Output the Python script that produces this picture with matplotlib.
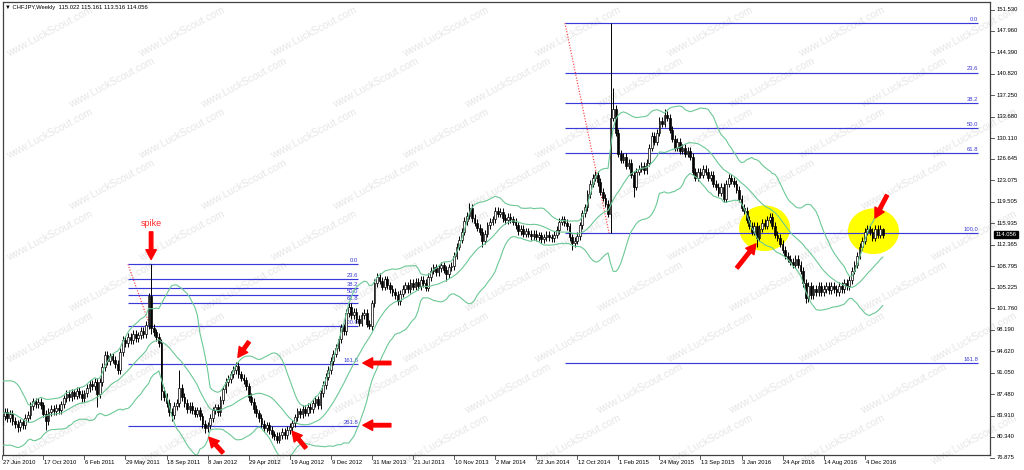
import matplotlib
matplotlib.use("Agg")
import matplotlib.pyplot as plt
from matplotlib.patches import Ellipse
import numpy as np
import pandas as pd

plt.rcParams["font.family"] = ["Liberation Sans", "DejaVu Sans"]

W, H = 1024, 470

symbol = "CHFJPY,Weekly"
first_week = "2010-06-27"

# closes of the weeks before the first visible bar (they only feed the bands)
pre_closes = [83.5, 84.0, 83.6, 84.8, 86.0, 87.2, 88.0, 88.6, 87.8, 88.2,
              86.5, 84.5, 82.0, 80.5, 81.5, 80.2, 80.8, 81.8, 82.5]

# weekly closes, one row per 16 weeks (one x label interval)
closes = [
    83.8, 84.5, 83.5, 84.2, 83.0, 82.5, 82.0, 82.8, 82.3, 83.5, 84.0, 85.5, 86.3, 85.8, 86.2, 85.6,
    84.2, 83.0, 84.5, 85.0, 84.6, 85.2, 84.8, 85.8, 86.8, 87.5, 87.0, 87.8, 87.2, 88.0, 87.5, 86.8,
    87.6, 88.5, 89.2, 88.8, 89.5, 87.5, 89.5, 92.0, 94.0, 93.0, 93.8, 93.2, 92.5, 91.5, 94.5, 96.5,
    96.0, 97.0, 96.5, 97.5, 96.8, 97.3, 98.0, 97.5, 99.0, 103.8, 98.5, 97.8, 97.0, 96.0, 88.0, 87.0,
    86.0, 84.5, 84.0, 85.5, 86.0, 88.5, 87.0, 86.0, 85.0, 85.5, 84.8, 84.2, 84.8, 83.8, 82.5, 81.8,
    82.3, 83.5, 84.8, 85.3, 84.5, 86.5, 88.3, 89.5, 90.0, 90.8, 91.5, 92.2, 90.8, 90.2, 89.8, 88.8,
    87.0, 86.2, 85.0, 84.3, 83.5, 82.5, 81.8, 82.3, 81.5, 80.8, 80.5, 79.9, 80.6, 81.2, 80.6, 81.5,
    82.0, 82.6, 83.6, 84.6, 84.1, 85.0, 84.4, 85.4, 85.0, 86.0, 86.6, 85.6, 87.6, 89.0, 90.4, 91.5,
    93.0, 94.2, 95.2, 96.6, 98.6, 98.0, 101.0, 102.0, 100.6, 101.2, 100.0, 99.4, 100.6, 101.0, 99.2, 98.8,
    102.6, 106.0, 107.0, 106.4, 105.4, 106.6, 105.6, 105.0, 104.5, 104.0, 103.0, 104.2, 105.0, 105.6, 105.0, 106.0,
    105.4, 106.2, 105.5, 106.5, 106.0, 105.2, 107.0, 108.0, 108.6, 107.8, 108.4, 108.9, 108.2, 107.4, 108.6, 108.8,
    110.5, 112.0, 113.2, 114.5, 116.3, 117.2, 118.5, 116.8, 116.0, 115.2, 114.5, 113.0, 114.2, 115.6, 116.2, 116.6,
    118.0, 117.5, 117.8, 116.8, 116.4, 117.0, 116.6, 116.2, 115.6, 114.6, 115.0, 114.2, 114.6, 114.2, 113.8, 114.2,
    113.6, 113.9, 113.3, 113.6, 114.0, 113.6, 113.4, 114.0, 114.8, 116.2, 116.6, 116.0, 115.4, 113.6, 112.6, 113.0,
    113.8, 115.6, 117.6, 118.6, 120.8, 122.5, 123.5, 124.0, 122.8, 121.2, 120.2, 119.2, 117.5, 133.5, 135.0, 131.0,
    127.5, 126.5, 127.0, 125.5, 126.0, 124.0, 122.0, 124.5, 125.0, 125.5, 124.8, 126.0, 128.5, 130.5, 129.5, 131.0,
    133.0, 132.5, 134.0, 133.5, 131.5, 130.0, 128.5, 129.5, 128.0, 128.5, 127.5, 128.0, 127.0, 124.5, 123.5, 124.5,
    124.0, 125.0, 124.5, 123.5, 124.0, 122.5, 122.0, 121.0, 122.0, 120.0, 122.5, 123.5, 123.0, 122.5, 121.5, 120.0,
    118.5, 118.0, 116.5, 115.5, 114.5, 115.5, 113.5, 115.0, 116.0, 115.5, 116.5, 117.0, 115.5, 114.0, 113.5, 112.5,
    111.5, 110.5, 110.0, 109.5, 109.0, 110.0, 109.0, 108.0, 106.0, 103.5, 105.5, 104.0, 105.0, 104.5, 105.5, 104.5,
    105.0, 105.5, 104.8, 105.5, 105.0, 104.5, 105.5, 105.0, 106.0, 105.5, 106.5, 108.0, 109.0, 110.5, 112.0, 113.0,
    114.5, 115.0, 114.5, 113.5, 115.0, 114.0, 115.022, 114.056,
]

# weeks with a clearly visible long wick
wick_highs = {57: 104.3, 58: 109.2, 69: 91.5, 91: 92.8, 182: 119.3, 231: 124.7,
              237: 149.3, 238: 138.4, 258: 134.9, 299: 117.6}
wick_lows = {6: 81.2, 17: 81.5, 37: 85.3, 45: 90.8, 58: 97.5, 62: 86.5, 66: 83.0,
             79: 81.0, 107: 79.3, 143: 98.3, 154: 102.3, 173: 106.3, 187: 112.0,
             222: 111.5, 237: 114.3, 246: 120.3, 281: 119.4, 294: 112.0, 313: 102.6}
last_ohlc = (115.022, 115.161, 113.516, 114.056)

price_ticks = [151.530, 147.960, 144.390, 140.820, 137.250, 133.680, 130.110,
               126.645, 123.075, 119.505, 115.935, 112.365, 108.795, 105.225,
               101.760, 98.190, 94.620, 91.050, 87.480, 83.910, 80.340, 76.875]
label_every = 16

# fibonacci objects: anchor 1 (bar, high), anchor 2 (bar, low), right end bar
fib_2011 = {"p1": (49.0, 109.1), "p2": (57.6, 98.8), "end": 138.6,
            "levels": [0.0, 23.6, 38.2, 50.0, 61.8, 100.0, 161.8, 261.8]}
fib_2015 = {"p1": (219.2, 149.28), "p2": (236.4, 114.28), "end": 380.1,
            "levels": [0.0, 23.6, 38.2, 50.0, 61.8, 100.0, 161.8]}

n = len(closes)
idx = np.arange(n)
dates = pd.date_range(first_week, periods=n, freq="7D")

c = np.array(closes, dtype=float)
o = np.array([pre_closes[-1]] + closes[:-1], dtype=float)
hi = np.maximum(o, c) + 0.6
lo = np.minimum(o, c) - 0.6
for k, v in wick_highs.items():
    hi[k] = v
for k, v in wick_lows.items():
    lo[k] = v
o[-1], hi[-1], lo[-1], c[-1] = last_ohlc

# bollinger bands 20, 2
s = pd.Series(pre_closes + closes)
mid = s.rolling(20).mean().to_numpy()[len(pre_closes):]
sd = s.rolling(20).std(ddof=0).to_numpy()[len(pre_closes):]

fig = plt.figure(figsize=(W / 100, H / 100), dpi=100)
ax = fig.add_axes([3 / W, 1 - 455 / H, 987 / W, 453 / H])
ax.set_xlim(0.3, 384.8)
ax.set_ylim(77.34, 152.78)
ax.set_xticks([])
ax.set_yticks([])
for sp in ax.spines.values():
    sp.set_color("#404040")
    sp.set_linewidth(0.9)

# watermark, kept fully inside the picture
for r in range(9):
    py = 32 + r * 51
    for col in range(8):
        px = 50 + col * 132 + (r % 2) * 62
        if px > 975:
            continue
        ax.text(px / W, 1 - py / H, "www.LuckScout.com", transform=fig.transFigure,
                rotation=28, fontsize=7.5, color="#e6e6e6", ha="center", va="center",
                zorder=0.5, clip_on=False)

# yellow highlights
for cx, cy in [(297.0, 115.1), (339.4, 114.6)]:
    ax.add_patch(Ellipse((cx, cy), 19.9, 7.6, facecolor="#ffff00", edgecolor="none", zorder=1))

# fibonacci retracements
for fib in (fib_2011, fib_2015):
    (x1, p_hi), (x2, p_lo) = fib["p1"], fib["p2"]
    ax.plot([x1, x2], [p_hi, p_lo], color="#ff3030", lw=0.8, ls=(0, (1, 1.5)), zorder=2)
    for lvl in fib["levels"]:
        price = p_hi - (p_hi - p_lo) * lvl / 100
        ax.hlines(price, x1, fib["end"], color="#3a3ad8", lw=0.85, zorder=2)
        ax.text(fib["end"], price + 0.2, f"{lvl:.1f}", ha="right", va="bottom",
                fontsize=4.2, color="#3a3ad8", zorder=2)

# candles
up = c >= o
ax.vlines(idx, lo, hi, color="black", lw=0.7, zorder=3)
ax.bar(idx, np.maximum(np.abs(c - o), 0.1), bottom=np.minimum(o, c), width=0.68,
       color=np.where(up, "white", "black"), edgecolor="black", linewidth=0.5, zorder=4)

for band in (mid + 2 * sd, mid, mid - 2 * sd):
    ax.plot(idx, band, color="#6cc896", lw=0.8, zorder=5)

# red arrows
arrows = [((58, 114.5), (58, 109.9)),
          ((96.1, 96.2), (91.8, 93.6)),
          ((86.0, 77.7), (80.5, 80.3)),
          ((118.3, 78.5), (112.9, 81.3)),
          ((151.4, 92.66), (140.5, 92.66)),
          ((151.4, 82.3), (140.5, 82.3)),
          ((286.2, 108.5), (293.6, 112.5)),
          ((344.7, 120.6), (340.0, 116.8))]
for tail, tip in arrows:
    ax.annotate("", xy=tip, xytext=tail, zorder=6,
                arrowprops=dict(arrowstyle="simple,head_length=0.7,head_width=0.75,tail_width=0.25",
                                color="#ff0000", shrinkA=0, shrinkB=0, mutation_scale=10))
ax.text(58, 115.9, "spike", color="#ff2a2a", fontsize=6.5, ha="center", va="center", zorder=6)

# header
fig.text(5 / W, 1 - 8 / H, "\u25bc " + symbol + "  " + " ".join(f"{v:.3f}" for v in last_ohlc),
         fontsize=4.2, ha="left", va="center")

# price scale
ytr = ax.get_yaxis_transform()
for p in price_ticks:
    ax.plot([1.0, 1.004], [p, p], transform=ytr, color="#404040", lw=0.6, clip_on=False)
    ax.text(1.0071, p, f"{p:.3f}", transform=ytr, fontsize=4.2, ha="left", va="center",
            clip_on=False)
ax.text(1.0055, last_ohlc[3], f"{last_ohlc[3]:.3f}", transform=ytr, fontsize=4.2,
        color="white", ha="left", va="center", clip_on=False, zorder=10,
        bbox=dict(boxstyle="square,pad=0.25", fc="black", ec="black"))

# time scale
xtr = ax.get_xaxis_transform()
for k in range(0, n, label_every):
    ax.plot([k, k], [0, -0.008], transform=xtr, color="#404040", lw=0.6, clip_on=False)
    d = dates[k]
    ax.text(k + 0.3, -0.0155, f"{d.day} {d:%b %Y}", transform=xtr, fontsize=4.2,
            ha="left", va="center", clip_on=False)

fig.savefig("out.png", dpi=100)
